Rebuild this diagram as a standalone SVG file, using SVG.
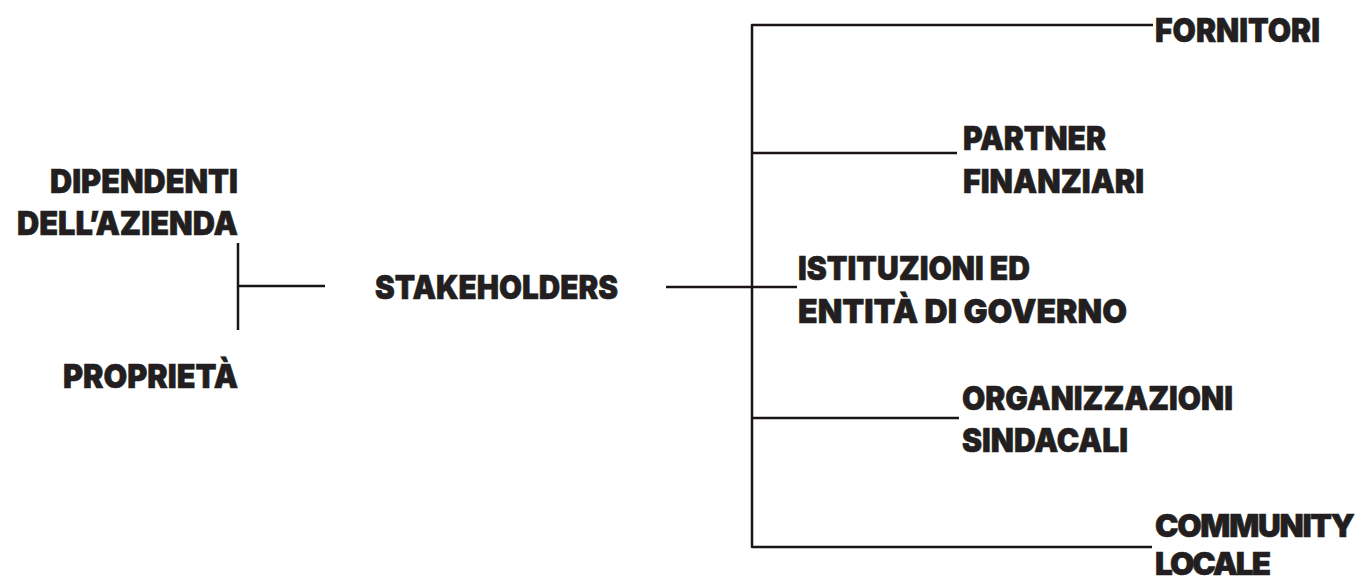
<svg xmlns="http://www.w3.org/2000/svg" width="1361" height="583" viewBox="0 0 1361 583">
<style>
.t{font-family:Inter,Roboto,"Liberation Sans",Arial,sans-serif;font-weight:900;font-size:33px;fill:#231f20;stroke:#231f20;stroke-width:0.6}
.e{text-anchor:end}
.c{fill:none;stroke:#1a1414;stroke-width:2.5;stroke-linejoin:round}
</style>
<rect width="1361" height="583" fill="#ffffff"/>
<g id="connectors">
<path class="c" d="M238,243 V330 M238,286 H325"/>
<path class="c" d="M1153,25 H752 V547 H1152"/>
<path class="c" d="M752,153 H957"/>
<path class="c" d="M666,287 H797"/>
<path class="c" d="M752,418 H959"/>
</g>
<g id="dipendenti">
<text class="t e" x="238" y="193" textLength="188" lengthAdjust="spacingAndGlyphs">DIPENDENTI</text>
<text class="t e" x="238" y="235" textLength="221" lengthAdjust="spacingAndGlyphs">DELL’AZIENDA</text>
</g>
<g id="proprieta">
<text class="t e" x="238" y="388" textLength="175" lengthAdjust="spacingAndGlyphs">PROPRIETÀ</text>
</g>
<g id="stakeholders">
<text class="t" x="375" y="299" textLength="243" lengthAdjust="spacingAndGlyphs">STAKEHOLDERS</text>
</g>
<g id="fornitori">
<text class="t" x="1155" y="42" textLength="165" lengthAdjust="spacingAndGlyphs">FORNITORI</text>
</g>
<g id="partner">
<text class="t" x="963" y="150" textLength="143" lengthAdjust="spacingAndGlyphs">PARTNER</text>
<text class="t" x="963" y="193" textLength="181" lengthAdjust="spacingAndGlyphs">FINANZIARI</text>
</g>
<g id="istituzioni">
<text class="t" x="798" y="280" textLength="232" lengthAdjust="spacingAndGlyphs">ISTITUZIONI ED</text>
<text class="t" x="798" y="323" textLength="329" lengthAdjust="spacingAndGlyphs">ENTITÀ DI GOVERNO</text>
</g>
<g id="organizzazioni">
<text class="t" x="962" y="410" textLength="271" lengthAdjust="spacingAndGlyphs">ORGANIZZAZIONI</text>
<text class="t" x="962" y="452" textLength="166" lengthAdjust="spacingAndGlyphs">SINDACALI</text>
</g>
<g id="community">
<text class="t" x="1155" y="537" style="font-size:31.5px;letter-spacing:-1.3px">COMMUNITY</text>
<text class="t" x="1155" y="575" style="font-size:31.5px;letter-spacing:-2px">LOCALE</text>
</g>
</svg>
